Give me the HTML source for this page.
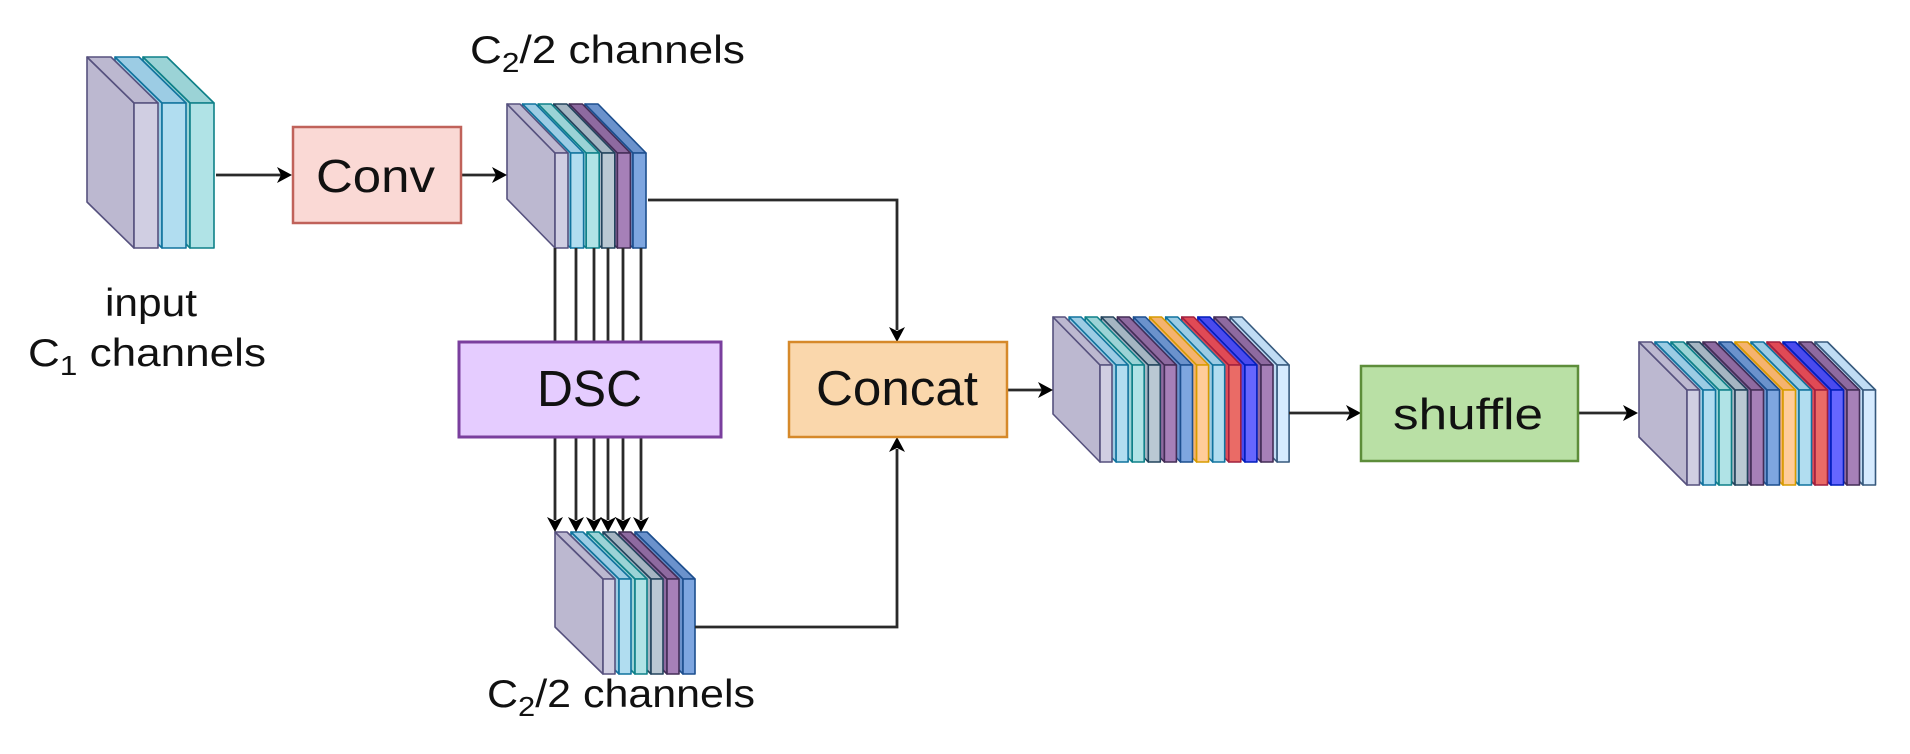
<!DOCTYPE html>
<html><head><meta charset="utf-8"><style>
html,body{margin:0;padding:0;background:#fff;}
svg{display:block;}
text{font-family:"Liberation Sans",Arial,sans-serif;fill:#111;}
</style></head><body>
<svg id="s" width="1910" height="754" viewBox="0 0 1910 754" xmlns="http://www.w3.org/2000/svg">
<g id="slabs"></g>
<g fill="none" stroke="#2a2a2a" stroke-width="2.8" id="lines">
<path d="M216 175H282"/>
<path d="M461 175H497"/>
<path d="M648 200H897V330"/>
<path d="M695 627H897V449"/>
<path d="M1007 390H1043"/>
<path d="M1289 413H1351"/>
<path d="M1578 413H1628"/>
<path d="M555 248V342M576 248V342M594 248V342M608 248V342M623 248V342M641 248V342"/>
<path d="M555 437V520M576 437V520M594 437V520M608 437V520M623 437V520M641 437V520"/>
</g>
<g fill="#000" id="heads"></g>
<rect x="293" y="127" width="168" height="96" fill="#fad9d5" stroke="#c0625a" stroke-width="2.5"/>
<rect x="459" y="342" width="262" height="95" fill="#e5ccff" stroke="#7a3f9e" stroke-width="3"/>
<rect x="789" y="342" width="218" height="95" fill="#fad7ac" stroke="#d6892a" stroke-width="2.5"/>
<rect x="1361" y="366" width="217" height="95" fill="#b9e0a5" stroke="#5d8d3a" stroke-width="2.5"/>
<text x="316" y="192" font-size="46" textLength="119" lengthAdjust="spacingAndGlyphs">Conv</text>
<text x="537" y="406" font-size="51" textLength="105" lengthAdjust="spacingAndGlyphs">DSC</text>
<text x="816" y="405" font-size="49" textLength="162" lengthAdjust="spacingAndGlyphs">Concat</text>
<text x="1393" y="429" font-size="44" textLength="150" lengthAdjust="spacingAndGlyphs">shuffle</text>
<text x="105" y="316" font-size="39" textLength="92" lengthAdjust="spacingAndGlyphs">input</text>
<text x="28" y="366" font-size="39" textLength="238" lengthAdjust="spacingAndGlyphs">C<tspan font-size="28" dy="9">1</tspan><tspan dy="-9"> channels</tspan></text>
<text x="470" y="63" font-size="39" textLength="275" lengthAdjust="spacingAndGlyphs">C<tspan font-size="28" dy="9">2</tspan><tspan dy="-9">/2 channels</tspan></text>
<text x="487" y="707" font-size="39" textLength="268" lengthAdjust="spacingAndGlyphs">C<tspan font-size="28" dy="9">2</tspan><tspan dy="-9">/2 channels</tspan></text>
</svg>
<script>
var NS="http://www.w3.org/2000/svg";
var C={
lav:["#d0cee2","#bcb8d0","#56517e"],
lb:["#b1ddf0","#9ccce4","#10739e"],
te:["#b0e3e6","#9bd3d6","#0e8088"],
gr:["#bac8d3","#a5b5c2","#23445d"],
pu:["#a680b8","#8e6aa0","#432d57"],
bl:["#7ea6e0","#6b92cc","#1c4e8e"],
or:["#ffcc99","#f5b36e","#d79b00"],
re:["#ea6b66","#e04a55","#a0203f"],
vb:["#6666ff","#4a4aee","#001dbc"],
li:["#d6ebff","#c0dcf4","#36597d"]};
var g=document.getElementById("slabs");
function el(t,a){var e=document.createElementNS(NS,t);for(var k in a)e.setAttribute(k,a[k]);g.appendChild(e);return e;}
function block(x0,step,w,yt,yb,dx,dy,cols){
 for(var i=cols.length-1;i>=0;i--){
  var x=x0+step*i,c=C[cols[i]];
  var st={stroke:c[2],"stroke-width":1.6,"stroke-linejoin":"round"};
  var p=function(pts,f){var a={points:pts.map(function(q){return q.join(",")}).join(" "),fill:f};for(var k in st)a[k]=st[k];el("polygon",a);};
  p([[x,yt],[x+dx,yt+dy],[x+dx,yb+dy],[x,yb]],c[1]);
  p([[x,yt],[x+w,yt],[x+w+dx,yt+dy],[x+dx,yt+dy]],c[1]);
  p([[x,yt],[x+w,yt],[x+w,yb],[x,yb]],c[0]);
 }
}
var full=["lav","lb","te","gr","pu","bl","or","lb","re","vb","pu","li"];
var half=["lav","lb","te","gr","pu","bl"];
block(134,28,24,103,248,-47,-46,["lav","lb","te"]);
block(555,15.6,13,153,248,-48,-49,half);
block(603,16,12,579,674,-48,-47,half);
block(1100,16.1,12,365,462,-47,-48,full);
block(1687,16,12.5,390,485,-48,-48,full);
var h=document.getElementById("heads");
function head(x,y,dir){
 var L=15,W=8,pts;
 if(dir=="r")pts=[[x,y],[x-L,y-W],[x-L+4,y],[x-L,y+W]];
 if(dir=="d")pts=[[x,y],[x-W,y-L],[x,y-L+4],[x+W,y-L]];
 if(dir=="u")pts=[[x,y],[x-W,y+L],[x,y+L-4],[x+W,y+L]];
 var e=document.createElementNS(NS,"polygon");
 e.setAttribute("points",pts.map(function(q){return q.join(",")}).join(" "));
 h.appendChild(e);
}
head(292,175,"r");head(507,175,"r");head(897,342,"d");head(897,437,"u");
head(1053,390,"r");head(1361,413,"r");head(1638,413,"r");
[555,576,594,608,623,641].forEach(function(x){head(x,532,"d");});
</script>
</body></html>
